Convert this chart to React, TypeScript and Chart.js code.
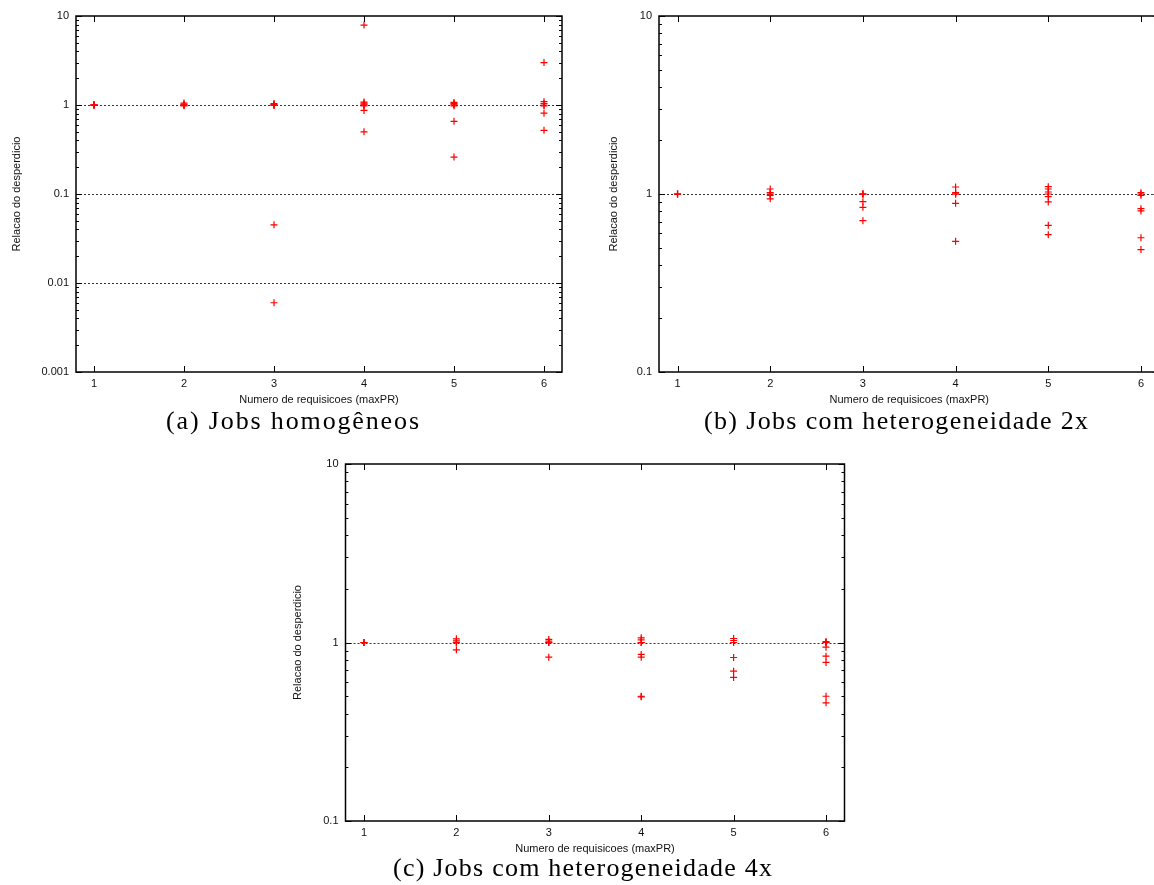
import React, { useEffect, useRef } from "react";
import { Chart, registerables } from "chart.js";
Chart.register(...registerables);

// ---------- data ----------
const xCategories = [1, 2, 3, 4, 5, 6];

const homogeneousValues: number[][] = [
  [1, 1, 1, 1, 1],
  [1.05, 1.02, 1.0, 1.0, 0.98],
  [1.04, 1.02, 1.0, 1.0, 0.99, 0.045, 0.006],
  [7.9, 1.08, 1.05, 1.02, 1.0, 0.98, 0.87, 0.5],
  [1.07, 1.04, 1.02, 1.0, 0.98, 0.655, 0.26],
  [3.0, 1.09, 1.04, 1.0, 0.98, 0.81, 0.52],
];

const hetero2xValues: number[][] = [
  [1, 1, 1],
  [1.067, 1.017, 1.0, 0.983, 0.94],
  [1.0, 1.0, 1.0, 0.905, 0.842, 0.708],
  [1.095, 1.017, 1.0, 1.0, 0.886, 0.542],
  [1.1, 1.067, 1.026, 1.0, 0.966, 0.902, 0.667, 0.591],
  [1.017, 1.0, 0.983, 0.827, 0.803, 0.568, 0.487],
];

const hetero4xValues: number[][] = [
  [1, 1, 1],
  [1.048, 1.02, 1.0, 1.0, 0.91],
  [1.04, 1.017, 1.0, 1.0, 0.828],
  [1.062, 1.035, 1.0, 1.0, 0.857, 0.828, 0.5, 0.496],
  [1.053, 1.026, 1.0, 0.824, 0.691, 0.637],
  [1.013, 1.0, 1.0, 0.941, 0.838, 0.773, 0.5, 0.459],
];

const decadesA = [0.001, 0.01, 0.1, 1, 10];
const tickLabelsA = ["0.001", "0.01", "0.1", "1", "10"];
const gridA = [0.01, 0.1, 1];

const decadesBC = [0.1, 1, 10];
const tickLabelsBC = ["0.1", "1", "10"];
const gridBC = [1];

const xTickLabels = ["1", "2", "3", "4", "5", "6"];
const xAxisTitle = "Numero de requisicoes (maxPR)";
const yAxisTitle = "Relacao do desperdicio";
const captions = [
  "(a) Jobs homogêneos",
  "(b) Jobs com heterogeneidade 2x",
  "(c) Jobs com heterogeneidade 4x",
];

// ---------- drawing helpers ----------
const SANS = "'Liberation Sans', Arial, sans-serif";
const TEXT = "#111";

const framePlugin = {
  id: "gnuplotFrame",
  beforeDatasetsDraw(chart: any, _args: any, opts: any) {
    const { ctx, chartArea: a, scales } = chart;
    const y = scales.y;
    ctx.save();
    ctx.strokeStyle = "#333";
    ctx.lineWidth = 1;
    ctx.setLineDash([2, 2]);
    for (const v of opts.gridValues as number[]) {
      const py = Math.round(y.getPixelForValue(v)) + 0.5;
      ctx.beginPath();
      ctx.moveTo(a.left, py);
      ctx.lineTo(a.right, py);
      ctx.stroke();
    }
    ctx.restore();
  },
  afterDatasetsDraw(chart: any, _args: any, opts: any) {
    const { ctx, chartArea: a, scales } = chart;
    const x = scales.x;
    const y = scales.y;
    ctx.save();
    ctx.strokeStyle = "#000";
    ctx.lineWidth = 1;
    ctx.setLineDash([]);
    const line = (x1: number, y1: number, x2: number, y2: number) => {
      ctx.beginPath();
      ctx.moveTo(x1, y1);
      ctx.lineTo(x2, y2);
      ctx.stroke();
    };
    const major = 6;
    const minor = 3;
    for (const v of xCategories) {
      const px = Math.round(x.getPixelForValue(v)) + 0.5;
      line(px, a.bottom, px, a.bottom - major);
      line(px, a.top, px, a.top + major);
    }
    const decs = opts.decades as number[];
    decs.forEach((d, i) => {
      const py = Math.round(y.getPixelForValue(d)) + 0.5;
      line(a.left, py, a.left + major, py);
      line(a.right, py, a.right - major, py);
      if (i < decs.length - 1) {
        for (let m = 2; m <= 9; m++) {
          const pm = Math.round(y.getPixelForValue(d * m)) + 0.5;
          line(a.left, pm, a.left + minor, pm);
          line(a.right, pm, a.right - minor, pm);
        }
      }
    });
    ctx.lineWidth = 1.5;
    ctx.strokeRect(a.left, a.top, a.right - a.left, a.bottom - a.top);
    ctx.restore();
  },
};

type PanelProps = {
  values: number[][];
  decades: number[];
  tickLabels: string[];
  gridValues: number[];
  left: number;
  top: number;
  width: number;
  height: number;
  yAxisWidth: number;
  xAxisHeight: number;
  padTop: number;
  padRight: number;
  yTitlePad: number;
  xTitlePad: number;
};

function Panel(p: PanelProps) {
  const ref = useRef<HTMLCanvasElement | null>(null);
  useEffect(() => {
    if (!ref.current) return;
    const points = xCategories.flatMap((xv, i) =>
      p.values[i].map((yv) => ({ x: xv, y: yv }))
    );
    const chart = new Chart(ref.current, {
      type: "scatter",
      data: {
        datasets: [
          {
            data: points,
            pointStyle: "cross",
            pointRadius: 3.5,
            pointBorderWidth: 1.2,
            borderColor: "#ff0000",
            backgroundColor: "#ff0000",
          },
        ],
      },
      plugins: [framePlugin],
      options: {
        animation: false,
        responsive: false,
        devicePixelRatio: 1,
        events: [],
        layout: { padding: { top: p.padTop, right: p.padRight, left: 0, bottom: 0 } },
        plugins: {
          legend: { display: false },
          tooltip: { enabled: false },
          gnuplotFrame: { gridValues: p.gridValues, decades: p.decades },
        } as any,
        scales: {
          x: {
            type: "linear",
            min: 0.8,
            max: 6.2,
            afterBuildTicks: (s: any) => {
              s.ticks = xCategories.map((v) => ({ value: v }));
            },
            afterFit: (s: any) => {
              s.height = p.xAxisHeight;
            },
            grid: { display: false, drawTicks: false },
            border: { display: false },
            ticks: {
              autoSkip: false,
              maxRotation: 0,
              padding: 5,
              color: TEXT,
              font: { family: SANS, size: 11 },
              callback: (_v: any, i: number) => xTickLabels[i],
            },
            title: {
              display: true,
              text: xAxisTitle,
              color: TEXT,
              font: { family: SANS, size: 11 },
              padding: { top: 0, bottom: p.xTitlePad },
            },
          },
          y: {
            type: "logarithmic",
            min: p.decades[0],
            max: p.decades[p.decades.length - 1],
            afterBuildTicks: (s: any) => {
              s.ticks = p.decades.map((v) => ({ value: v, major: true }));
            },
            afterFit: (s: any) => {
              s.width = p.yAxisWidth;
            },
            grid: { display: false, drawTicks: false },
            border: { display: false },
            ticks: {
              autoSkip: false,
              padding: 7,
              color: TEXT,
              font: { family: SANS, size: 11 },
              callback: (_v: any, i: number) => p.tickLabels[i],
            },
            title: {
              display: true,
              text: yAxisTitle,
              color: TEXT,
              font: { family: SANS, size: 11 },
              padding: { top: p.yTitlePad, bottom: 0 },
            },
          },
        },
      } as any,
    });
    return () => chart.destroy();
  }, []);
  return (
    <canvas
      ref={ref}
      width={p.width}
      height={p.height}
      style={{
        position: "absolute",
        left: p.left,
        top: p.top,
        width: p.width,
        height: p.height,
      }}
    />
  );
}

const SERIF = "'Liberation Serif', 'DejaVu Serif', serif";
let measureCanvas: HTMLCanvasElement | null = null;
function measure(text: string, font: string): number {
  if (!measureCanvas) measureCanvas = document.createElement("canvas");
  const c = measureCanvas.getContext("2d")!;
  c.font = font;
  return c.measureText(text).width;
}

function Caption({ text, cx, cy, width }: { text: string; cx: number; cy: number; width: number }) {
  const size = 26;
  const w = measure(text, `${size}px ${SERIF}`);
  const ls = (width - w) / (text.length - 1);
  return (
    <div
      style={{
        position: "absolute",
        left: cx - width / 2,
        top: cy - size / 2,
        fontFamily: SERIF,
        fontSize: size,
        lineHeight: `${size}px`,
        letterSpacing: `${ls}px`,
        whiteSpace: "nowrap",
        color: "#000",
      }}
    >
      {text}
    </div>
  );
}

export default function App() {
  return (
    <div
      style={{
        position: "fixed",
        left: 0,
        top: 0,
        width: 1154,
        height: 885,
        overflow: "hidden",
        background: "#fff",
      }}
    >
      <Panel
        values={homogeneousValues}
        decades={decadesA}
        tickLabels={tickLabelsA}
        gridValues={gridA}
        left={0}
        top={0}
        width={580}
        height={410}
        yAxisWidth={76}
        xAxisHeight={38}
        padTop={16}
        padRight={18}
        yTitlePad={10.4}
        xTitlePad={3.4}
      />
      <Panel
        values={hetero2xValues}
        decades={decadesBC}
        tickLabels={tickLabelsBC}
        gridValues={gridBC}
        left={590}
        top={0}
        width={580}
        height={410}
        yAxisWidth={69}
        xAxisHeight={38}
        padTop={16}
        padRight={10.5}
        yTitlePad={17.4}
        xTitlePad={3.4}
      />
      <Panel
        values={hetero4xValues}
        decades={decadesBC}
        tickLabels={tickLabelsBC}
        gridValues={gridBC}
        left={280}
        top={450}
        width={580}
        height={410}
        yAxisWidth={65.5}
        xAxisHeight={39}
        padTop={14}
        padRight={15.5}
        yTitlePad={11.4}
        xTitlePad={4.4}
      />
      <Caption text={captions[0]} cx={292.5} cy={421} width={253} />
      <Caption text={captions[1]} cx={896} cy={421} width={384} />
      <Caption text={captions[2]} cx={582.5} cy={868} width={379} />
    </div>
  );
}
